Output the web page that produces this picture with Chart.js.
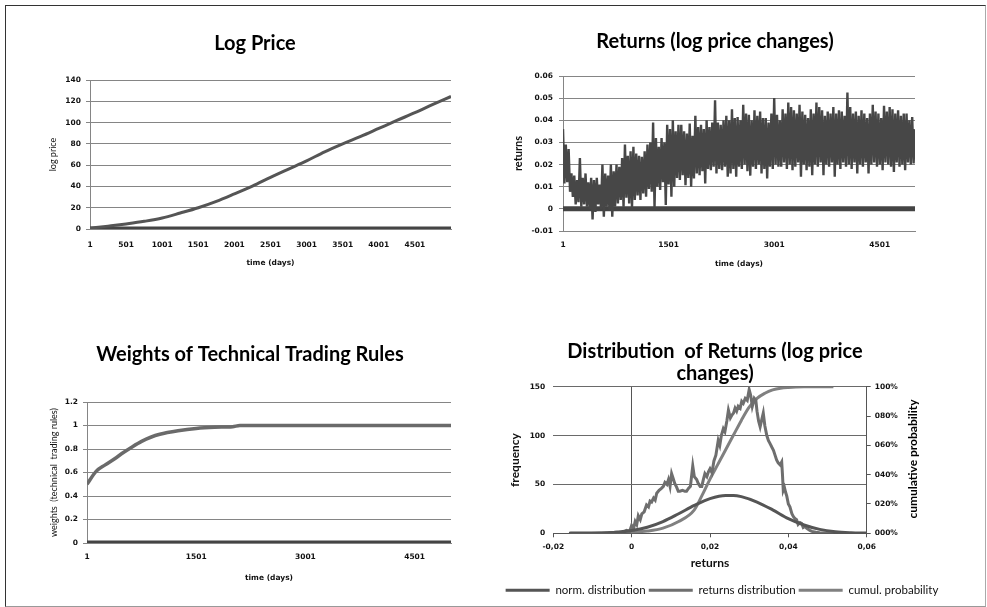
<!DOCTYPE html>
<html><head><meta charset="utf-8">
<script src="https://cdn.jsdelivr.net/npm/chart.js@4.4.1/dist/chart.umd.min.js"></script>
<style>
html,body{margin:0;padding:0;background:#fff;}
#wrap{position:relative;width:987px;height:607px;overflow:hidden;background:#fff;}
#frame{position:absolute;left:5px;top:5px;width:981px;height:602px;box-sizing:border-box;border-top:1px solid #333;border-left:1px solid #333;border-right:1px solid #aaa;border-bottom:1px solid #999;}
canvas{position:absolute;left:0;top:0;}
</style></head><body>
<div id="wrap"><div id="frame"></div>
<canvas id="c1" width="987" height="607"></canvas>
<canvas id="c2" width="987" height="607"></canvas>
<canvas id="c3" width="987" height="607"></canvas>
<canvas id="c4" width="987" height="607"></canvas>
</div>
<script>
// ---------- DATA ----------
// Log price
const lpDays   = [1,251,501,751,1001,1251,1501,1751,2001,2251,2501,2751,3001,3251,3501,3751,4001,4251,4501,4751,5001];
const logPrice = [0.7,2.7,4.8,7.2,10.3,15,20,26,33,40.3,48.5,56.3,64,72.5,80,87,94.5,102,109.3,117,124.5];
const lpYTicks = [0,20,40,60,80,100,120,140];
const timeTicksA = [1,501,1001,1501,2001,2501,3001,3501,4001,4501];
const timeTicksB = [1,1501,3001,4501];
const zeroDays = [1,5001];
const zeroVals = [0,0];

// Returns: alternating highs (day 1+40i) and lows (day 21+40i)
const retHigh = [
0.036,0.029,0.027,0.016,0.015,0.013,0.023,0.014,0.016,0.012,
0.014,0.013,0.014,0.011,0.020,0.016,0.015,0.020,0.017,0.020,
0.019,0.023,0.029,0.024,0.026,0.028,0.025,0.024,0.0235,0.026,
0.029,0.030,0.039,0.032,0.028,0.032,0.030,0.038,0.036,0.040,
0.035,0.038,0.038,0.035,0.034,0.0385,0.033,0.042,0.037,0.038,
0.036,0.040,0.037,0.039,0.049,0.039,0.038,0.040,0.042,0.040,
0.045,0.041,0.0415,0.040,0.047,0.043,0.0425,0.040,0.0445,0.042,
0.044,0.041,0.041,0.039,0.043,0.050,0.0425,0.040,0.045,0.043,
0.048,0.046,0.0445,0.043,0.047,0.044,0.0425,0.041,0.045,0.043,
0.048,0.046,0.0445,0.042,0.044,0.043,0.046,0.043,0.0445,0.044,
0.042,0.0525,0.046,0.043,0.044,0.042,0.0445,0.043,0.041,0.043,
0.047,0.044,0.043,0.041,0.0465,0.044,0.046,0.045,0.043,0.0445,
0.042,0.043,0.043,0.040,0.0415,0.036];
const retLow = [
0.0115,0.012,0.0077,0.0054,0.002,0.003,0.001,0.002,0.001,0.0,
-0.0048,-0.0014,0.002,0.0,-0.0036,0.001,-0.0006,-0.0036,0.001,0.0024,
0.004,0.001,0.005,0.0024,0.0005,0.004,0.006,0.004,0.007,0.0055,
0.009,0.0077,0.0005,0.010,0.0085,0.012,0.0017,0.011,0.0055,0.010,
0.014,0.013,0.0152,0.0107,0.014,0.010,0.0137,0.016,0.0152,0.017,
0.0115,0.018,0.0175,0.019,0.016,0.018,0.0175,0.019,0.0145,0.016,
0.018,0.0145,0.019,0.018,0.020,0.017,0.015,0.019,0.018,0.020,
0.016,0.018,0.0137,0.019,0.018,0.020,0.019,0.019,0.021,0.018,
0.020,0.0175,0.019,0.021,0.0145,0.020,0.0175,0.019,0.0152,0.020,
0.019,0.021,0.0152,0.020,0.019,0.021,0.0145,0.020,0.018,0.021,
0.019,0.020,0.018,0.021,0.016,0.020,0.019,0.021,0.016,0.020,
0.021,0.019,0.020,0.0175,0.021,0.020,0.019,0.0167,0.021,0.019,
0.020,0.0175,0.021,0.020,0.0205];
const retYTicks = [-0.01,0,0.01,0.02,0.03,0.04,0.05,0.06];

// Weights of technical trading rules
const wDays   = [1,126,251,376,501,626,751,876,1001,1251,1501,1751,2001,2101,2501,3001,3501,4001,4501,5001];
const weights = [0.5,0.61,0.665,0.715,0.77,0.82,0.865,0.9,0.925,0.955,0.975,0.985,0.99,1,1,1,1,1,1,1];
const wYTicks = [0,0.2,0.4,0.6,0.8,1,1.2];

// Distribution of returns
const distX = [-0.0157,-0.01,-0.006,-0.004,-0.0025,-0.0013,-0.0005,0,0.0005,0.0009,0.0013,0.0017,0.0022,0.0026,0.0032,0.0038,0.0043,0.0047,0.0051,0.0056,0.006,0.0064,0.007,0.0076,0.0081,0.0085,0.009,0.0094,0.0098,0.0102,0.0106,0.011,0.0115,0.0119,0.0123,0.013,0.0136,0.014,0.0145,0.015,0.0156,0.016,0.0166,0.017,0.0175,0.0179,0.0183,0.0187,0.0192,0.0196,0.02,0.0205,0.021,0.0215,0.0221,0.0225,0.0229,0.0234,0.0238,0.0243,0.0247,0.0252,0.0256,0.026,0.0264,0.0268,0.0272,0.0277,0.0281,0.0285,0.029,0.0295,0.03,0.0304,0.0308,0.031,0.0313,0.0317,0.032,0.0324,0.0328,0.0332,0.0336,0.034,0.0345,0.0349,0.0353,0.0358,0.0362,0.0366,0.037,0.0374,0.0379,0.0383,0.0385,0.0387,0.039,0.0393,0.0396,0.04,0.0404,0.0409,0.0413,0.0417,0.0421,0.0425,0.043,0.0434,0.0438,0.0442,0.0447,0.0455,0.046,0.047,0.048,0.0515];
const distFreq = [0,0,0.3,1,0.5,3,2,8,5,12,9,18,14,20,22,29,27,33,32,36,34,41,44,46,48,52,50,55,48,61,56,51,47,43,43,44,43,43,46,48,69,58,55,51,48,48,55,61,58,63,66,62,74,80,95,90,100,107,104,115,126,118,121,123,128,125,130,128,135,133,138,136,147,141,130,133,138,136,125,115,109,116,123,110,100,95,92,88,85,80,75,72,70,73,60,44,47,42,38,30,27,20,17,15,14,9,11,10,6,7,5,3,2,1,0.5,0];
const normX    = [-0.016,-0.012,-0.008,-0.004,0,0.004,0.008,0.012,0.016,0.02,0.024,0.026,0.028,0.032,0.036,0.04,0.044,0.048,0.052,0.056,0.06];
const normFreq = [0.05,0.15,0.4,1.1,2.8,6.2,12,20,28.5,35.5,38.8,38.8,37.5,32,24,15,8.5,4,1.6,0.6,0.2];
const cumX    = [-0.0157,-0.01,-0.005,-0.002,0,0.004,0.008,0.012,0.016,0.018,0.02,0.022,0.024,0.026,0.028,0.03,0.032,0.034,0.036,0.038,0.04,0.044,0.0515];
const cumProb = [0,0,0.1,0.3,0.6,1.5,3.5,8,16,26,37,47,57,67,77,86,92,95.5,97.8,99,99.5,99.9,100];
const distXTicks = [-0.02,0,0.02,0.04,0.06];
const freqTicks  = [0,50,100,150];
const probTicks  = [0,20,40,60,80,100];

// ---------- HELPERS ----------
const W = 987, H = 607;
Chart.defaults.font.family = 'Lato';
Chart.defaults.color = '#111';
const tickFont = {family:'DejaVu Sans', size:7.5, weight:'bold'};
const pts = (xs, ys) => xs.map((x,i) => ({x:x, y:ys[i]}));
const setTicks = arr => s => { s.ticks = arr.map(v => ({value:v})); };
const fixW = w => s => { s.width = w; };
const fixH = h => s => { s.height = h; };

const textPlugin = {
  id:'texts',
  afterDraw(chart, args, opts){
    const ctx = chart.ctx;
    (opts.items || []).forEach(it => {
      ctx.save();
      ctx.font = it.font; ctx.fillStyle = it.color || '#000';
      ctx.textAlign = 'center'; ctx.textBaseline = 'middle';
      ctx.translate(it.x, it.y);
      if (it.rot) ctx.rotate(it.rot);
      ctx.fillText(it.text, 0, 0);
      ctx.restore();
    });
  }
};

const retPoints = [];
retHigh.forEach((v,i) => {
  retPoints.push({x:1+40*i, y:v});
  if (i < retLow.length) retPoints.push({x:21+40*i, y:retLow[i]});
});

const baseOpts = {responsive:false, animation:false, events:[]};
const gridGray = '#858585';

function timeChart(id, cfg){
  return new Chart(document.getElementById(id), {
    type:'line',
    data:{datasets:cfg.datasets},
    options:Object.assign({}, baseOpts, {
      layout:{padding:cfg.padding},
      plugins:{legend:{display:false}, tooltip:{enabled:false}, texts:{items:cfg.texts}},
      scales:{
        x:{type:'linear', min:1, max:5001, afterBuildTicks:setTicks(cfg.xTicks), afterFit:fixH(cfg.xH),
           grid:{display:false, drawTicks:false}, border:{display:true, color:gridGray},
           ticks:{font:tickFont, color:'#111', padding:cfg.xPad, maxRotation:0, autoSkip:false, callback:v => String(v)},
           title:{display:true, text:'time (days)', font:tickFont, color:'#111', padding:{top:0, bottom:cfg.xTitlePad}}},
        y:{min:cfg.yMin, max:cfg.yMax, afterBuildTicks:setTicks(cfg.yTicks), afterFit:fixW(cfg.yW),
           grid:{color:gridGray, tickLength:4}, border:{display:true, color:gridGray},
           ticks:{font:tickFont, color:'#111', padding:cfg.yPad, autoSkip:false, callback:cfg.yFmt},
           title:{display:true, text:cfg.yTitle, font:cfg.yTitleFont, color:'#111', padding:{top:cfg.yTitlePad, bottom:0}}}
      }
    }),
    plugins:[textPlugin]
  });
}
const lineDs = (label, data, color, width, smooth) => ({label, data, borderColor:color, backgroundColor:color, borderWidth:width, pointRadius:0, fill:false, tension:smooth?0.4:0, cubicInterpolationMode:smooth?'monotone':'default'});
const titleFont = 'bold 20px Lato';

// ---------- CHART 1: Log Price ----------
timeChart('c1', {
  datasets:[lineDs('log price', pts(lpDays, logPrice), '#555', 3, true),
            lineDs('zero', pts(zeroDays, zeroVals), '#444', 5, false)],
  padding:{left:40, top:80, right:W-451, bottom:H-229-40},
  xTicks:timeTicksA, xH:40, xPad:11.5, xTitlePad:1.2,
  yMin:0, yMax:140, yTicks:lpYTicks, yW:50, yPad:5, yFmt:v => String(v),
  yTitle:'log price', yTitleFont:{family:'Lato', size:9}, yTitlePad:7.6,
  texts:[{text:'Log Price', x:255, y:44, font:titleFont}]
});

// ---------- CHART 2: Returns ----------
timeChart('c2', {
  datasets:[lineDs('returns', retPoints, '#474747', 2.4, false),
            lineDs('zero', pts(zeroDays, zeroVals), '#444', 5, false)],
  padding:{left:500, top:76, right:W-915, bottom:H-231-40},
  xTicks:timeTicksB, xH:40, xPad:9.5, xTitlePad:2.5,
  yMin:-0.01, yMax:0.06, yTicks:retYTicks, yW:63, yPad:6, yFmt:v => v === 0 ? '0' : v.toFixed(2),
  yTitle:'returns', yTitleFont:{family:'Lato', size:11, weight:'bold'}, yTitlePad:11.4,
  texts:[{text:'Returns (log price changes)', x:715, y:42, font:titleFont}]
});

// ---------- CHART 3: Weights ----------
timeChart('c3', {
  datasets:[lineDs('weights', pts(wDays, weights), '#6a6a6a', 3.5, true),
            lineDs('zero', pts(zeroDays, zeroVals), '#444', 5, false)],
  padding:{left:40, top:402, right:W-451, bottom:H-543-40},
  xTicks:timeTicksB, xH:40, xPad:9.5, xTitlePad:0.5,
  yMin:0, yMax:1.2, yTicks:wYTicks, yW:47, yPad:5, yFmt:v => String(+v.toFixed(1)),
  yTitle:'weights  (technical  trading rules)', yTitleFont:{family:'Lato', size:9}, yTitlePad:8.6,
  texts:[{text:'Weights of Technical Trading Rules', x:250, y:355, font:titleFont}]
});

// ---------- CHART 4: Distribution ----------
const a4 = {l:553.3, t:386.7, r:866.7, b:533.3};
const legPad = 3, legFont = 11.5, legH = legFont + legPad + 10, x4H = 48.2, rW4 = W - a4.r - 20;
new Chart(document.getElementById('c4'), {
  type:'line',
  data:{datasets:[
    Object.assign(lineDs('norm. distribution', pts(normX, normFreq), '#555', 3, true), {yAxisID:'y'}),
    Object.assign(lineDs('returns distribution', pts(distX, distFreq), '#6e6e6e', 3, false), {yAxisID:'y'}),
    Object.assign(lineDs('cumul. probability', pts(cumX, cumProb), '#808080', 3, true), {yAxisID:'y2'})
  ]},
  options:Object.assign({}, baseOpts, {
    layout:{padding:{left:477, top:a4.t, right:20, bottom:H - a4.b - x4H - legH}},
    plugins:{
      tooltip:{enabled:false},
      legend:{display:true, position:'bottom', labels:{usePointStyle:true, pointStyle:'line', pointStyleWidth:44, boxHeight:legFont, padding:legPad, font:{family:'Lato', size:legFont}, color:'#111'}},
      texts:{items:[
        {text:'Distribution  of Returns (log price', x:715, y:352, font:titleFont},
        {text:'changes)', x:715, y:374, font:titleFont},
        {text:'cumulative probability', x:913, y:459, font:'bold 12px Lato', rot:-Math.PI/2}
      ]}
    },
    scales:{
      x:{type:'linear', min:-0.02, max:0.06, afterBuildTicks:setTicks(distXTicks), afterFit:fixH(x4H),
         grid:{color:c => (c.tick && c.tick.value === 0) ? '#555' : 'rgba(0,0,0,0)', tickColor:'#555', tickLength:4},
         border:{display:true, color:'#555'},
         ticks:{font:tickFont, color:'#111', padding:5.2, maxRotation:0, autoSkip:false, callback:v => v === 0 ? '0' : v.toFixed(2).replace('.', ',')},
         title:{display:true, text:'returns', font:{family:'Lato', size:12, weight:'bold'}, color:'#111', padding:{top:0, bottom:11.3}}},
      y:{position:'left', min:0, max:150, afterBuildTicks:setTicks(freqTicks), afterFit:fixW(a4.l - 477),
         grid:{color:'#6a6a6a', drawTicks:false}, border:{display:false},
         ticks:{font:tickFont, color:'#111', padding:8, autoSkip:false, callback:v => String(v)},
         title:{display:true, text:'frequency', font:{family:'Lato', size:12, weight:'bold'}, color:'#111', padding:{top:30.8, bottom:0}}},
      y2:{position:'right', min:0, max:100, afterBuildTicks:setTicks(probTicks), afterFit:fixW(rW4),
         grid:{drawOnChartArea:false, color:'#555', tickLength:4}, border:{display:true, color:'#555'},
         ticks:{font:tickFont, color:'#111', padding:4, autoSkip:false, callback:v => String(v).padStart(3, '0') + '%'}}
    }
  }),
  plugins:[textPlugin]
});
</script>
</body></html>
